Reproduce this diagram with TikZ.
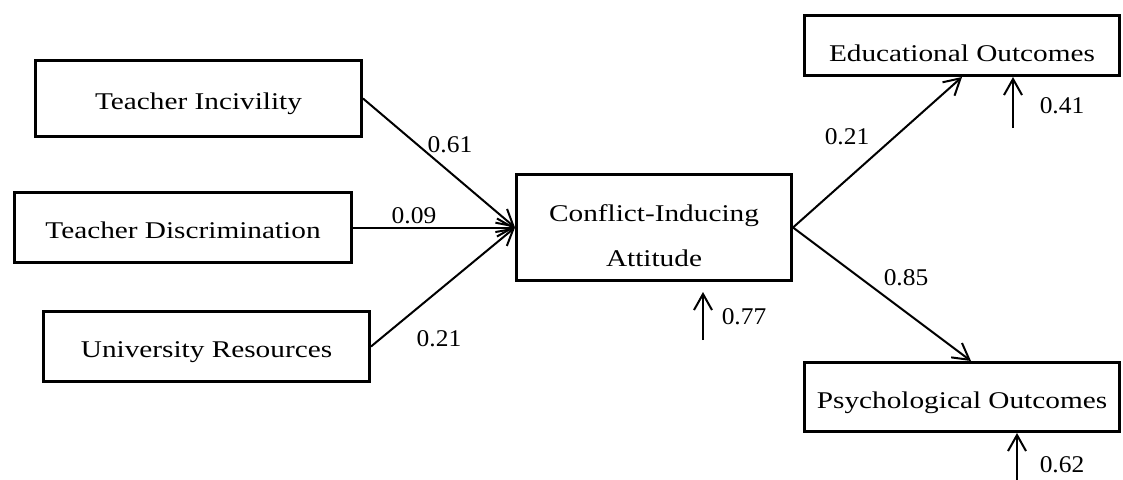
\documentclass[tikz,border=0pt]{standalone}
\usepackage{fontspec}
\setmainfont{Liberation Serif}
\usetikzlibrary{arrows.meta}
% widened lettering for names and for coefficients
\newcommand{\wname}[1]{\scalebox{1.22}[1]{#1}}
\newcommand{\wnum}[1]{\scalebox{1.06}[1]{#1}}
\begin{document}
\begin{tikzpicture}[x=1pt,y=-1pt,
  box/.style={draw, line width=3pt, inner sep=0pt, text height=22pt, text depth=0pt,
              font=\fontsize{24}{28}\selectfont},
  boxtext/.style={inner sep=0pt, anchor=base, font=\fontsize{24}{28}\selectfont},
  coef/.style={inner sep=0pt, font=\fontsize{24}{28}\selectfont},
  link/.style={line width=2pt, -{Straight Barb[length=16pt,width=18pt]}}]
\useasboundingbox (0,0) rectangle (1123,479);

% variables
\node[box, minimum width=326pt, minimum height=76pt] (ti) at (198.5,98.5) {\wname{Teacher Incivility}};
\node[box, minimum width=337pt, minimum height=70pt] (td) at (183,227.5) {\wname{Teacher Discrimination}};
\node[box, minimum width=326pt, minimum height=70pt] (ur) at (206.5,346.5) {\wname{University Resources}};
\node[box, minimum width=275pt, minimum height=106pt] (cia) at (654,227.5) {};
\node[boxtext] (cia1) at (654,221.7) {\wname{Conflict-Inducing}};
\node[boxtext] (cia2) at (654,266.7) {\wname{Attitude}};
\node[box, text height=32pt, minimum width=315pt, minimum height=60pt] (eo) at (962,45.5) {\wname{Educational Outcomes}};
\node[box, minimum width=315pt, minimum height=69pt] (po) at (962,397) {\wname{Psychological Outcomes}};

% paths
\draw[link] (ti.east) -- (cia.west);
\draw[link] (td.east) -- (cia.west);
\draw[link] (ur.east) -- (cia.west);
\draw[link] (cia.east) -- (eo.south);
\draw[link] (cia.east) -- ([xshift=9pt]po.north);

% residual terms
\coordinate (r1) at (703,340);
\coordinate (r1t) at (703,292);
\draw[link] (r1) -- (r1t);
\coordinate (r2) at (1013,128);
\draw[link] (r2) -- (r2 |- eo.south);
\coordinate (r3) at (1017,480);
\draw[link] (r3) -- (r3 |- po.south);

% path coefficients
\node[coef] (c1) at (450,145) {\wnum{0.61}};
\node[coef] (c2) at (414,216) {\wnum{0.09}};
\node[coef] (c3) at (439,339) {\wnum{0.21}};
\node[coef] (c4) at (847,137) {\wnum{0.21}};
\node[coef] (c5) at (906,278) {\wnum{0.85}};
\node[coef] (c6) at (744,317) {\wnum{0.77}};
\node[coef] (c7) at (1062,106) {\wnum{0.41}};
\node[coef] (c8) at (1062,464.5) {\wnum{0.62}};
\end{tikzpicture}
\end{document}
